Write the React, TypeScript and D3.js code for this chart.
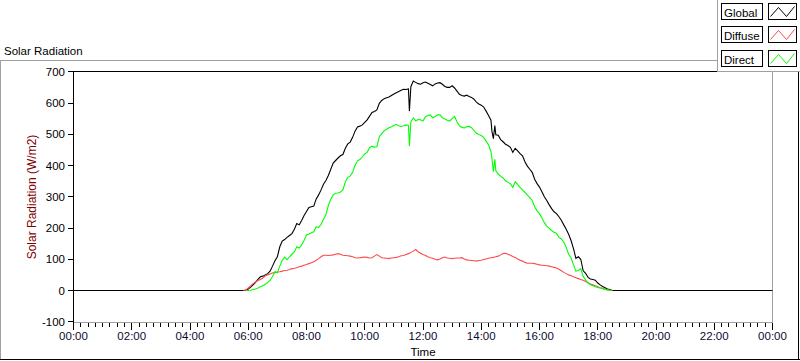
import React from 'react';
import * as d3 from 'd3';

// time of day in minutes
const minutes = [
  0,
  350, 355, 360, 365, 370, 375, 380, 385, 390, 395,
  400, 405, 410, 415, 420, 425, 430, 435, 440, 445,
  450, 455, 460, 465, 470, 475, 480, 485, 490, 495,
  500, 505, 510, 515, 520, 525, 530, 535, 540, 545,
  550, 555, 560, 565, 570, 575, 580, 585, 590, 595,
  600, 605, 610, 615, 620, 625, 630, 635, 640, 645,
  650, 655, 660, 665, 670, 675, 680, 685, 690, 692, 695,
  700, 705, 710, 715, 720, 725, 730, 735, 740, 745,
  750, 755, 760, 765, 770, 775, 780, 785, 790, 795,
  800, 805, 810, 815, 820, 825, 830, 835, 840, 845,
  850, 855, 860, 862, 865, 868, 870, 875, 880, 885, 890, 895,
  900, 905, 910, 915, 920, 925, 930, 935, 940, 945,
  950, 955, 960, 965, 970, 975, 980, 985, 990, 995,
  1000, 1005, 1010, 1015, 1020, 1025, 1030, 1035, 1040, 1045,
  1050, 1055, 1060, 1065, 1070, 1075, 1080, 1085, 1090, 1095,
  1100, 1105, 1110,
  1440,
];

const globalRad: (number | null)[] = [
  0,
  0, 1, 5, 11, 18, 26, 36, 44, 46, 50,
  54, 62, 78, 95, 108, 140, 158, 163, 170, 176,
  182, 196, 214, 210, 224, 240, 253, 266, 268, 270,
  293, 306, 322, 340, 352, 368, 388, 408, 416, 424,
  431, 435, 455, 469, 475, 490, 510, 523, 526, 530,
  538, 546, 558, 570, 573, 578, 599, 608, 614, 617,
  619, 624, 629, 633, 637, 641, 644, 643, 645, 574, 652,
  670, 666, 662, 660, 665, 667, 663, 659, 655, 661,
  664, 665, 660, 653, 650, 650, 655, 648, 638, 628,
  624, 622, 625, 621, 618, 612, 603, 597, 593, 587,
  574, 560, 545, 510, 486, 528, 498, 497, 483, 476, 468, 464,
  458, 442, 455, 447, 438, 431, 412, 398, 388, 378,
  356, 342, 331, 316, 300, 288, 274, 262, 252, 246,
  236, 225, 210, 196, 180, 160, 134, 103, 108, 100,
  63, 55, 42, 37, 35, 33, 24, 18, 13, 9,
  5, 3, 0,
  0,
];

const diffuseRad: (number | null)[] = [
  null,
  0, 2, 8, 15, 22, 27, 32, 35, 40, 46,
  50, 53, 56, 58, 59, 60, 62, 64, 65, 67,
  70, 71, 73, 76, 78, 81, 83, 86, 89, 92,
  97, 102, 108, 113, 113, 112, 113, 114, 116, 118,
  116, 113, 112, 111, 110, 108, 105, 104, 105, 106,
  107, 106, 104, 105, 110, 115, 110, 105, 104, 103,
  102, 104, 105, 106, 108, 111, 112, 115, 118, 119, 122,
  126, 131, 124, 119, 115, 112, 108, 105, 103, 100,
  98, 101, 105, 107, 104, 103, 102, 103, 104, 104,
  105, 101, 98, 97, 96, 95, 94, 96, 97, 99,
  101, 103, 105, 105, 106, 107, 108, 110, 114, 118, 119, 116,
  113, 109, 106, 101, 97, 94, 90, 87, 87, 87,
  86, 84, 82, 81, 80, 79, 78, 76, 74, 72,
  68, 63, 58, 54, 50, 47, 44, 41, 38, 35,
  33, 29, 25, 21, 18, 15, 12, 9, 7, 4,
  2, 1, 0,
  null,
];

const directRad: (number | null)[] = [
  null,
  null, 0, 0, 1, 3, 5, 8, 12, 15, 20,
  25, 33, 45, 60, 57, 78, 97, 107, 99, 108,
  116, 124, 140, 136, 146, 160, 178, 181, 185, 188,
  204, 201, 212, 228, 242, 272, 292, 306, 311, 312,
  315, 322, 348, 362, 366, 378, 400, 415, 419, 428,
  437, 442, 457, 462, 459, 460, 492, 502, 511, 516,
  521, 524, 528, 531, 527, 525, 527, 530, 528, 462, 540,
  552, 543, 547, 546, 542, 556, 560, 562, 553, 557,
  562, 562, 553, 549, 545, 542, 550, 557, 540, 527,
  522, 520, 524, 525, 521, 512, 503, 499, 496, 490,
  478, 466, 445, 424, 380, 420, 384, 372, 366, 360, 351, 346,
  342, 330, 348, 340, 330, 322, 314, 305, 297, 288,
  268, 255, 246, 232, 217, 206, 199, 192, 186, 183,
  170, 165, 155, 138, 116, 104, 82, 62, 64, 70,
  45, 34, 24, 18, 15, 12, 10, 8, 6, 4,
  2, 1, 0,
  null,
];

const seriesNames = ['Global', 'Diffuse', 'Direct'];
const seriesColors = ['#000000', '#ff4848', '#00ff00'];
const yTicks = [-100, 0, 100, 200, 300, 400, 500, 600, 700];
const xMajorTicks = [0, 120, 240, 360, 480, 600, 720, 840, 960, 1080, 1200, 1320, 1440];
const xMinorStep = 15;

const FONT = "'Liberation Sans', Arial, sans-serif";

export default function App() {
  const x = d3.scaleLinear().domain([0, 1440]).range([73.5, 772.5]);
  const y = d3.scaleLinear().domain([-100, 700]).range([321.75, 71.75]);
  const px = (v: number) => Math.round(v - 0.5) + 0.5;

  const series = [globalRad, diffuseRad, directRad];
  const makeLine = (vals: (number | null)[]) =>
    d3
      .line<number>()
      .defined((_, i) => vals[i] != null)
      .x((m) => x(m))
      .y((_, i) => y(vals[i] as number))(minutes) || '';

  const minorTicks = d3.range(0, 1441, xMinorStep).filter((m) => m % 120 !== 0);
  const fmt = (m: number) => `${String(Math.floor(m / 60) % 24).padStart(2, '0')}:00`;

  const left = 73.5, right = 772.5, top = 71.5, bottom = 322.5;

  return (
    <svg
      width={800}
      height={361}
      style={{ position: 'absolute', left: 0, top: 0, background: '#fff' }}
      fontFamily={FONT}
    >
      <rect x={0} y={0} width={800} height={361} fill="#fff" />
      {/* outer panel */}
      <line x1={0} x2={718} y1={60.5} y2={60.5} stroke="#a0a0a0" shapeRendering="crispEdges" />
      <line x1={0.5} x2={0.5} y1={60} y2={360} stroke="#a0a0a0" shapeRendering="crispEdges" />
      <line x1={0} x2={800} y1={359.5} y2={359.5} stroke="#000" shapeRendering="crispEdges" />
      <line x1={798.5} x2={798.5} y1={60} y2={360} stroke="#000" shapeRendering="crispEdges" />
      <text x={4} y={55} fontSize={11.5} fill="#000">Solar Radiation</text>

      {/* plot frame */}
      <line x1={left} x2={right} y1={bottom} y2={bottom} stroke="#a0a0a0" shapeRendering="crispEdges" />
      <line x1={right} x2={right} y1={top} y2={bottom} stroke="#a0a0a0" shapeRendering="crispEdges" />
      <line x1={left} x2={right} y1={top} y2={top} stroke="#000" shapeRendering="crispEdges" />
      <line x1={left} x2={left} y1={top} y2={bottom} stroke="#000" shapeRendering="crispEdges" />

      {/* y ticks */}
      {yTicks.map((t) => (
        <g key={'y' + t}>
          <line x1={68} x2={left} y1={px(y(t))} y2={px(y(t))} stroke="#000" shapeRendering="crispEdges" />
          <text x={65} y={y(t)} dy="0.35em" textAnchor="end" fontSize={11.5} fill="#000">
            {t}
          </text>
        </g>
      ))}

      {/* x ticks */}
      {minorTicks.map((m) => (
        <line key={'mx' + m} x1={px(x(m))} x2={px(x(m))} y1={323} y2={327} stroke="#000" shapeRendering="crispEdges" />
      ))}
      {xMajorTicks.map((m) => (
        <g key={'x' + m}>
          <line x1={px(x(m))} x2={px(x(m))} y1={323} y2={330} stroke="#000" shapeRendering="crispEdges" />
          <text x={x(m)} y={340} textAnchor="middle" fontSize={11.5} fill="#0c0c30">
            {fmt(m)}
          </text>
        </g>
      ))}

      {/* axis titles */}
      <text
        transform={`translate(36, ${(top + bottom) / 2}) rotate(-90)`}
        textAnchor="middle"
        fontSize={12}
        fill="#800000"
      >
        Solar Radiation (W/m2)
      </text>
      <text x={(left + right) / 2} y={356} textAnchor="middle" fontSize={11.5} fill="#000">
        Time
      </text>

      {/* data */}
      {series.map((vals, i) => (
        <path key={seriesNames[i]} d={makeLine(vals)} fill="none" stroke={seriesColors[i]} strokeWidth={1.1} />
      ))}

      {/* legend */}
      <rect x={717.5} y={-1} width={90} height={72.5} fill="#fff" stroke="#a0a0a0" shapeRendering="crispEdges" />
      {seriesNames.map((name, i) => {
        const y0 = Math.round(3 + i * 23.3) + 0.5;
        const ix = 768.5;
        const pts: [number, number][] = [
          [ix + 2, y0 + 13],
          [ix + 10, y0 + 4],
          [ix + 18, y0 + 13],
          [ix + 26, y0 + 3],
        ];
        return (
          <g key={'lg' + name}>
            <rect x={721.5} y={y0} width={41} height={15.5} fill="#fff" stroke="#000" shapeRendering="crispEdges" />
            <text x={724} y={y0 + 13} fontSize={11.5} fill="#000">
              {name}
            </text>
            <rect x={ix} y={y0} width={28} height={15.5} fill="#fff" stroke="#000" shapeRendering="crispEdges" />
            <path d={d3.line()(pts) || ''} fill="none" stroke={seriesColors[i]} strokeWidth={1} />
          </g>
        );
      })}
    </svg>
  );
}
